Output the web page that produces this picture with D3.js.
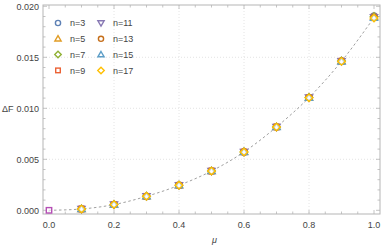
<!DOCTYPE html>
<html>
<head>
<meta charset="utf-8">
<script src="https://cdn.jsdelivr.net/npm/d3@7"></script>
<style>
  body { margin: 0; background: #fff; }
  text { font-family: "Liberation Sans", Arial, sans-serif; fill: #444; }
</style>
</head>
<body>
<div id="chart"></div>
<script>
// data
let muValues = [0.1, 0.2, 0.3, 0.4, 0.5, 0.6, 0.7, 0.8, 0.9, 1.0];
let baseDF = [0.00013, 0.00056, 0.00137, 0.00245, 0.00385, 0.00572, 0.00817, 0.01105, 0.01461, 0.01889];
let seriesNames = ["n=3", "n=5", "n=7", "n=9", "n=11", "n=13", "n=15", "n=17"];
// small spread between n values visible only at the right end
let dF_n3  = [0.00013, 0.00056, 0.00137, 0.00245, 0.00386, 0.00573, 0.00818, 0.01107, 0.01465, 0.01905];
let dF_n5  = [0.00013, 0.00056, 0.00137, 0.00245, 0.00386, 0.00573, 0.00818, 0.01106, 0.01464, 0.01900];
let dF_n7  = [0.00013, 0.00056, 0.00137, 0.00245, 0.00385, 0.00572, 0.00817, 0.01106, 0.01463, 0.01897];
let dF_n9  = [0.00013, 0.00056, 0.00137, 0.00245, 0.00385, 0.00572, 0.00817, 0.01105, 0.01462, 0.01894];
let dF_n11 = [0.00013, 0.00056, 0.00137, 0.00245, 0.00385, 0.00572, 0.00817, 0.01105, 0.01461, 0.01892];
let dF_n13 = [0.00013, 0.00056, 0.00137, 0.00245, 0.00385, 0.00572, 0.00817, 0.01105, 0.01461, 0.01890];
let dF_n15 = [0.00013, 0.00056, 0.00137, 0.00245, 0.00385, 0.00572, 0.00816, 0.01104, 0.01460, 0.01888];
let dF_n17 = [0.00013, 0.00056, 0.00137, 0.00245, 0.00385, 0.00572, 0.00816, 0.01104, 0.01460, 0.01886];
let zeroPoint = [0, 0];
let xTicks = [0.0, 0.2, 0.4, 0.6, 0.8, 1.0];
let yTicks = [0.000, 0.005, 0.010, 0.015, 0.020];

let seriesData = [dF_n3, dF_n5, dF_n7, dF_n9, dF_n11, dF_n13, dF_n15, dF_n17];
let colors = ["#5e81b5", "#e19c24", "#8fb032", "#eb6235", "#8778b3", "#c56e1a", "#5d9ec7", "#ffbf00"];
let shapes = ["circle", "tri", "diamond", "square", "tridown", "circle", "tri", "diamond"];

let W = 382, H = 246;
let frame = { left: 43, right: 380, top: 5, bottom: 214 };

let svg = d3.select("#chart").append("svg")
	.attr("width", W)
	.attr("height", H);

let x = d3.scaleLinear().domain([0, 1]).range([49, 374]);
let y = d3.scaleLinear().domain([0, 0.02]).range([210.3, 6.3]);

// grid lines
let grid = svg.append("g").attr("stroke", "#ddd").attr("stroke-dasharray", "1,2").attr("stroke-width", 0.8);
grid.selectAll(".gx").data(xTicks.slice(1, -1)).enter().append("line")
	.attr("x1", d => x(d)).attr("x2", d => x(d))
	.attr("y1", frame.top).attr("y2", frame.bottom);
grid.selectAll(".gy").data(yTicks.slice(1, -1)).enter().append("line")
	.attr("x1", frame.left).attr("x2", frame.right)
	.attr("y1", d => y(d)).attr("y2", d => y(d));

// frame
svg.append("rect")
	.attr("x", frame.left).attr("y", frame.top)
	.attr("width", frame.right - frame.left).attr("height", frame.bottom - frame.top)
	.attr("fill", "none").attr("stroke", "#b5b5b5").attr("stroke-width", 1);

// ticks pointing inward on all four sides
let xMinor = d3.range(0, 1.0001, 0.05);
let yMinor = d3.range(0, 0.02001, 0.001);
let tk = svg.append("g").attr("stroke", "#b5b5b5").attr("stroke-width", 0.8);
function isMajor(v, step) { return Math.abs(v / step - Math.round(v / step)) < 1e-6; }
xMinor.forEach(function (v) {
	let len = isMajor(v, 0.2) ? 4 : 2.5;
	tk.append("line").attr("x1", x(v)).attr("x2", x(v)).attr("y1", frame.bottom).attr("y2", frame.bottom - len);
	tk.append("line").attr("x1", x(v)).attr("x2", x(v)).attr("y1", frame.top).attr("y2", frame.top + len);
});
yMinor.forEach(function (v) {
	let len = isMajor(v, 0.005) ? 4 : 2.5;
	tk.append("line").attr("y1", y(v)).attr("y2", y(v)).attr("x1", frame.left).attr("x2", frame.left + len);
	tk.append("line").attr("y1", y(v)).attr("y2", y(v)).attr("x1", frame.right).attr("x2", frame.right - len);
});

// tick labels
svg.selectAll(".xl").data(xTicks).enter().append("text")
	.attr("x", d => x(d)).attr("y", 228)
	.attr("text-anchor", "middle")
	.style("font-size", "9px")
	.text(d => d3.format(".1f")(d));
svg.selectAll(".yl").data(yTicks).enter().append("text")
	.attr("x", 39).attr("y", d => y(d) + 3.2)
	.attr("text-anchor", "end")
	.style("font-size", "9px")
	.text(d => d3.format(".3f")(d));

// axis labels
svg.append("text").attr("x", 2).attr("y", y(0.01) + 3.5)
	.style("font-size", "9px").text("\u0394F");
svg.append("text").attr("x", x(0.5) + 3).attr("y", 243)
	.attr("text-anchor", "middle")
	.style("font-size", "9px").style("font-style", "italic").text("\u03bc");

// dashed fit curve
let curvePts = [[zeroPoint[0], zeroPoint[1]]].concat(muValues.map((m, i) => [m, baseDF[i]]));
svg.append("path")
	.datum(curvePts)
	.attr("fill", "none")
	.attr("stroke", "#888")
	.attr("stroke-width", 0.8)
	.attr("stroke-dasharray", "2.5,2.5")
	.attr("d", d3.line().x(d => x(d[0])).y(d => y(d[1])).curve(d3.curveMonotoneX));

// marker drawing
function drawMarker(g, shape, cx, cy, color, s) {
	let el;
	if (shape === "circle") {
		el = g.append("circle").attr("cx", cx).attr("cy", cy).attr("r", s);
	} else if (shape === "square") {
		el = g.append("rect").attr("x", cx - s + 0.3).attr("y", cy - s + 0.3).attr("width", 2 * s - 0.6).attr("height", 2 * s - 0.6);
	} else if (shape === "tri") {
		el = g.append("path").attr("d", `M${cx},${cy - s * 1.2}L${cx + s * 1.2},${cy + s * 0.85}L${cx - s * 1.2},${cy + s * 0.85}Z`);
	} else if (shape === "tridown") {
		el = g.append("path").attr("d", `M${cx},${cy + s * 1.2}L${cx + s * 1.2},${cy - s * 0.85}L${cx - s * 1.2},${cy - s * 0.85}Z`);
	} else {
		el = g.append("path").attr("d", `M${cx},${cy - s * 1.25}L${cx + s * 1.25},${cy}L${cx},${cy + s * 1.25}L${cx - s * 1.25},${cy}Z`);
	}
	el.attr("fill", "#fff").attr("fill-opacity", 0.6).attr("stroke", color).attr("stroke-width", 1.4);
}

let pts = svg.append("g");
drawMarker(pts, "square", x(zeroPoint[0]), y(zeroPoint[1]), "#b54fb5", 3);
seriesData.forEach(function (vals, k) {
	vals.forEach(function (v, i) {
		drawMarker(pts, shapes[k], x(muValues[i]), y(v), colors[k], 3);
	});
});

// legend
let leg = svg.append("g");
seriesNames.forEach(function (name, k) {
	let col = Math.floor(k / 4), row = k % 4;
	let mx = 58 + col * 43, my = 23 + row * 15.8;
	drawMarker(leg, shapes[k], mx, my, colors[k], 2.6);
	leg.append("text").attr("x", mx + 12).attr("y", my + 3.3)
		.style("font-size", "9px").text(name);
});
</script>
</body>
</html>
